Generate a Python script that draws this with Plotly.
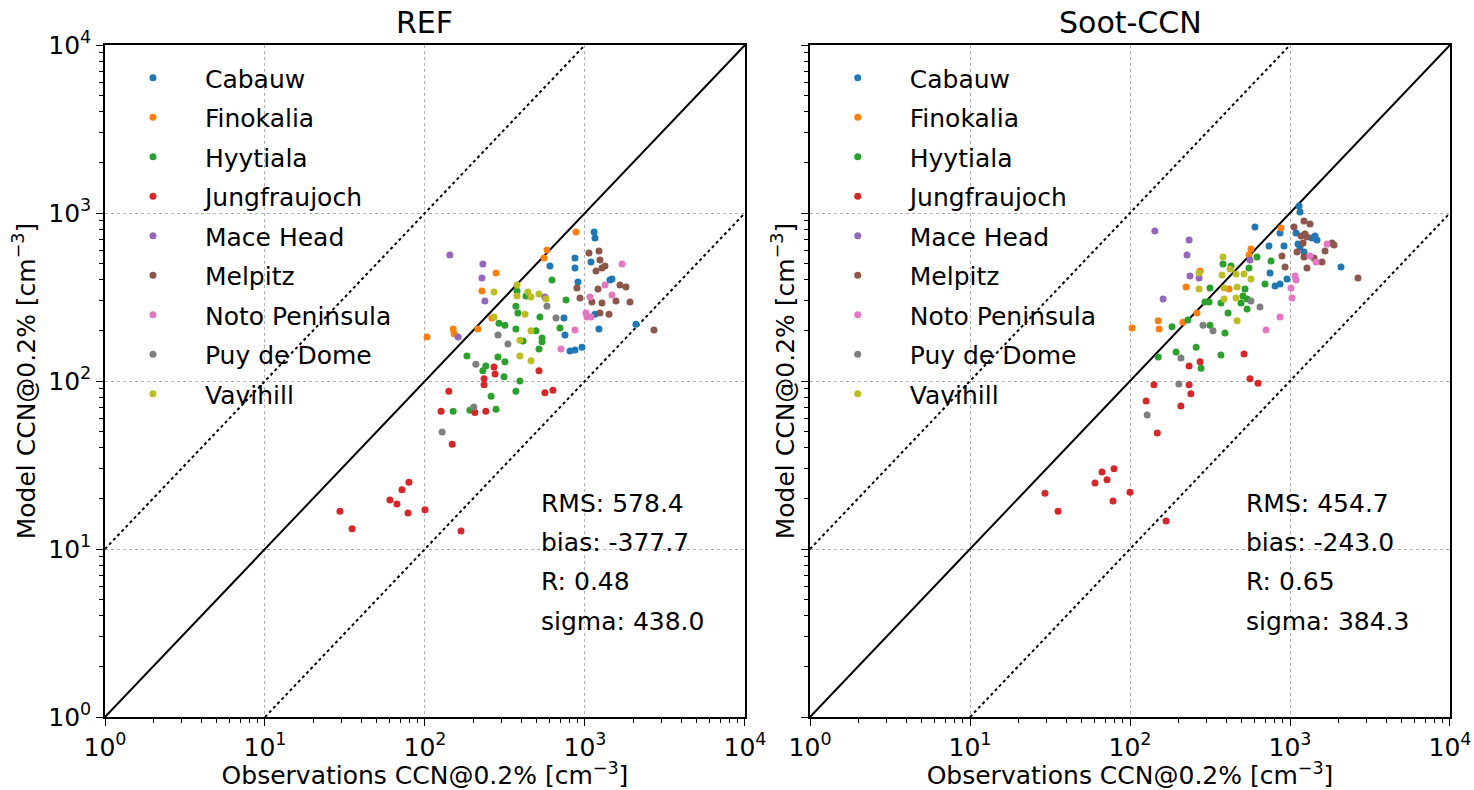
import plotly.graph_objects as go

stations = ["Cabauw", "Finokalia", "Hyytiala", "Jungfraujoch", "Mace Head",
            "Melpitz", "Noto Peninsula", "Puy de Dome", "Vavihill"]
colors = ["#1f77b4", "#ff7f0e", "#2ca02c", "#d62728", "#9467bd",
          "#8c564b", "#e377c2", "#7f7f7f", "#bcbd22"]

# ---------------- REF panel ----------------
ref_obs = {
    "Cabauw": [1140, 1155, 866, 1090, 866, 604, 904, 1433, 1475, 1155, 739, 1223, 2083, 750, 806, 866, 958],
    "Finokalia": [879, 579, 554, 278, 227, 262, 150, 152, 214, 103],
    "Hyytiala": [290, 316, 370, 381, 370, 376, 622, 428, 523, 698, 494, 539, 539, 516, 410, 761,
                 183, 286, 316, 240, 230, 312, 392, 370, 259, 150, 191, 278],
    "Jungfraujoch": [270, 274, 234, 234, 141, 126, 205, 240, 516, 562, 631, 148, 79.4, 71.8, 60.4,
                     66.8, 78.3, 100, 29.4, 35, 168],
    "Mace Head": [143, 230, 227, 237, 161, 562],
    "Melpitz": [1059, 1223, 1241, 1172, 1277, 1334, 891, 931, 1206, 1106, 1277, 1655, 1804, 1563,
                1911, 1241, 1413, 2700],
    "Noto Peninsula": [1704, 1334, 1475, 1075, 1014, 1029, 1090, 866, 708],
    "Puy de Dome": [286, 330, 208, 202, 128, 579, 659],
    "Vavihill": [270, 270, 376, 376, 440, 460, 516, 571, 422, 460, 392, 392, 460],
}
ref_mod = {
    "Cabauw": [770, 710, 540, 511, 471, 484, 388, 399, 405, 250, 237, 204, 218, 188, 151, 153, 159],
    "Finokalia": [770, 602, 540, 439, 343, 237, 204, 191, 204, 183],
    "Hyytiala": [221, 215, 279, 254, 204, 343, 399, 321, 240, 207, 199, 180, 171, 155, 173, 303,
                 141, 139, 130, 123, 115, 106, 100, 87, 81, 66, 67, 68],
    "Jungfraujoch": [121, 110, 103, 95, 87, 66, 65, 66, 115, 85, 88, 42, 25, 22.5, 19.6,
                     18.5, 16.4, 17.1, 16.8, 13.2, 12.8],
    "Mace Head": [562, 497, 410, 299, 183, 316],
    "Melpitz": [578, 594, 525, 451, 471, 484, 358, 312, 353, 295, 291, 373, 363, 299,
                295, 254, 250, 201],
    "Noto Peninsula": [497, 373, 325, 316, 254, 240, 240, 201, 155],
    "Puy de Dome": [188, 166, 126, 70, 49.7, 279, 237],
    "Vavihill": [339, 240, 373, 321, 339, 316, 330, 308, 250, 199, 175, 141, 132],
}

# ---------------- Soot-CCN panel ----------------
soot_obs = {
    "Cabauw": [1138, 1155, 604, 866, 1090, 917, 739, 1122, 1155, 1433, 1475, 1373, 1223, 750,
               2083, 958, 866, 806],
    "Finokalia": [879, 570, 554, 274, 224, 416, 262, 214, 150, 152, 103],
    "Hyytiala": [622, 381, 428, 554, 761, 316, 523, 698, 370, 494, 508, 539, 539, 312, 294, 410,
                 230, 183, 316, 392, 259, 150, 194, 278, 370],
    "Jungfraujoch": [234, 274, 516, 562, 631, 141, 234, 240, 126, 208, 148, 79.4, 66.8, 71.8,
                     60.4, 100, 78.3, 29.4, 35.5, 168],
    "Mace Head": [143, 234, 227, 562, 237, 270, 161],
    "Melpitz": [1059, 1223, 1334, 1172, 1241, 1277, 1206, 1106, 1223, 1413, 1585, 1655, 1830,
                1884, 891, 931, 1277, 2661],
    "Noto Peninsula": [1704, 1334, 1454, 1075, 1090, 1014, 1029, 866, 708],
    "Puy de Dome": [570, 649, 286, 330, 208, 202, 128],
    "Vavihill": [381, 422, 270, 376, 460, 516, 570, 270, 387, 467, 387, 460, 467],
}
soot_mod = {
    "Cabauw": [1101, 1014, 825, 760, 760, 636, 636, 654, 628, 730, 691, 710, 586, 439,
               477, 405, 378, 368],
    "Finokalia": [814, 611, 562, 451, 363, 353, 254, 224, 228, 204, 207],
    "Hyytiala": [547, 497, 484, 471, 518, 358, 353, 378, 291, 291, 321, 308, 268, 295, 295, 254,
                 231, 210, 215, 193, 159, 139, 149, 119, 143],
    "Jungfraujoch": [123, 130, 145, 103, 97, 95, 95, 84, 76, 71, 49, 30, 28.7, 25.8,
                     24.7, 21.8, 19.3, 21.5, 16.8, 14.7],
    "Mace Head": [781, 691, 562, 525, 422, 410, 308],
    "Melpitz": [825, 896, 860, 730, 750, 720, 663, 586, 547, 540, 511, 594, 663,
                645, 555, 477, 471, 410],
    "Noto Peninsula": [654, 555, 511, 422, 399, 358, 312, 240, 201],
    "Puy de Dome": [299, 276, 215, 199, 137, 96, 62.8],
    "Vavihill": [547, 464, 439, 428, 434, 434, 405, 353, 358, 363, 308, 312, 228],
}

panel_titles = ["REF", "Soot-CCN"]
stats_ref = ["RMS: 578.4", "bias: -377.7", "R: 0.48", "sigma: 438.0"]
stats_soot = ["RMS: 454.7", "bias: -243.0", "R: 0.65", "sigma: 384.3"]
tick_vals = [1, 10, 100, 1000, 10000]
tick_text = ["10<sup>0</sup>", "10<sup>1</sup>", "10<sup>2</sup>", "10<sup>3</sup>", "10<sup>4</sup>"]
axis_range = [1, 10000]
xlabel = "Observations CCN@0.2% [cm<sup>−3</sup>]"
ylabel = "Model CCN@0.2% [cm<sup>−3</sup>]"

FONT = "DejaVu Sans, sans-serif"
FS = 25
fig = go.Figure()

minor_vals = [m * d for d in (1, 10, 100, 1000) for m in range(2, 10)]

for i, (obs, mod) in enumerate([(ref_obs, ref_mod), (soot_obs, soot_mod)]):
    xa = "x" if i == 0 else "x2"
    ya = "y" if i == 0 else "y2"
    lg = "legend" if i == 0 else "legend2"
    lo, hi = axis_range
    fig.add_trace(go.Scatter(x=[lo, hi], y=[lo, hi], mode="lines",
                             line=dict(color="black", width=2), showlegend=False,
                             xaxis=xa, yaxis=ya, hoverinfo="skip"))
    fig.add_trace(go.Scatter(x=[lo, hi / 10], y=[lo * 10, hi], mode="lines",
                             line=dict(color="black", width=2, dash="dot"), showlegend=False,
                             xaxis=xa, yaxis=ya, hoverinfo="skip"))
    fig.add_trace(go.Scatter(x=[lo * 10, hi], y=[lo, hi / 10], mode="lines",
                             line=dict(color="black", width=2, dash="dot"), showlegend=False,
                             xaxis=xa, yaxis=ya, hoverinfo="skip"))
    for s, c in zip(stations, colors):
        fig.add_trace(go.Scatter(x=obs[s], y=mod[s], mode="markers", name=s,
                                 marker=dict(color=c, size=7, line=dict(width=0)),
                                 xaxis=xa, yaxis=ya, legend=lg, legendgroup=f"{s}{i}"))

axis_common = dict(type="log", range=[0, 4], tickmode="array", tickvals=tick_vals,
                   ticktext=tick_text, ticks="outside", ticklen=7, tickwidth=1,
                   tickcolor="black", showline=True, linecolor="black", linewidth=1.5,
                   mirror=True, showgrid=True, gridcolor="#b0b0b0", gridwidth=1,
                   griddash="dot", zeroline=False, automargin=False,
                   tickfont=dict(family=FONT, size=FS, color="black"),
                   minor=dict(tickmode="array", tickvals=minor_vals, ticks="outside",
                              ticklen=4, tickcolor="black", showgrid=False))

title_font = dict(family=FONT, size=FS, color="black")
legend_common = dict(xanchor="left", yanchor="top", bgcolor="rgba(0,0,0,0)",
                     font=dict(family=FONT, size=FS, color="black"), traceorder="grouped",
                     tracegroupgap=4, itemwidth=94)
fig.update_layout(
    width=1474, height=790,
    margin=dict(l=105, r=24, t=45, b=73, autoexpand=False),
    paper_bgcolor="white", plot_bgcolor="white",
    font=dict(family=FONT, color="black"),
    xaxis=dict(domain=[0, 0.4758], **axis_common,
               title=dict(text=xlabel, font=title_font, standoff=6)),
    yaxis=dict(domain=[0, 1], **axis_common,
               title=dict(text=ylabel, font=title_font, standoff=6)),
    xaxis2=dict(domain=[0.5242, 1], anchor="y2", **axis_common,
                title=dict(text=xlabel, font=title_font, standoff=6)),
    yaxis2=dict(domain=[0, 1], anchor="x2", **axis_common,
                showticklabels=False,
                title=dict(text=ylabel, font=title_font, standoff=0)),
    legend=dict(x=-0.003, y=0.985, **legend_common),
    legend2=dict(x=0.521, y=0.985, **legend_common),
)

annotations = []
for i, (title, stats) in enumerate(zip(panel_titles, [stats_ref, stats_soot])):
    xr = "x domain" if i == 0 else "x2 domain"
    yr = "y domain" if i == 0 else "y2 domain"
    annotations.append(dict(text=title, xref=xr, yref="paper", x=0.5, y=1.0, yshift=23,
                            xanchor="center", yanchor="middle", showarrow=False,
                            font=dict(family=FONT, size=30, color="black")))
    for k, t in enumerate(stats):
        annotations.append(dict(text=t, xref=xr, yref=yr, x=0.678, y=0.318 - k * 0.0585,
                                xanchor="left", yanchor="middle", showarrow=False,
                                font=dict(family=FONT, size=FS, color="black")))
fig.update_layout(annotations=annotations)

fig.write_html("out.html")
